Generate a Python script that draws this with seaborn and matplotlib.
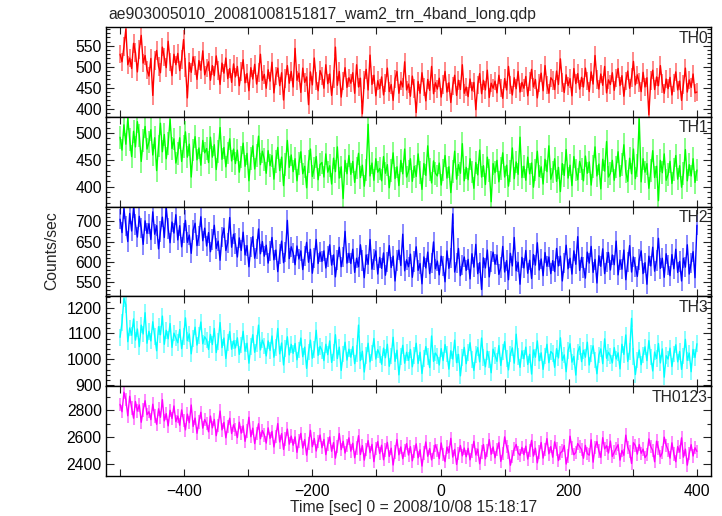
import numpy as np
import matplotlib.pyplot as plt
import seaborn as sns
from matplotlib.ticker import MultipleLocator, FuncFormatter

# time bins (sec), 0 = 2008/10/08 15:18:17
time_sec = np.arange(-500, 401, 3)

# count rates (counts/sec)
th0 = [
    530, 512, 548, 590, 505, 521, 496, 556, 534, 488, 541, 575, 509, 527, 493,
    478, 520, 432, 515, 539, 501, 486, 547, 523, 498, 561, 512, 479, 530, 505,
    532, 491, 518, 565, 499, 426, 510, 487, 524, 503, 470, 515, 492, 538, 481,
    497, 512, 468, 503, 479, 526, 491, 458, 509, 485, 521, 472, 496, 463, 507,
    476, 501, 455, 489, 517, 462, 484, 443, 498, 471, 506, 459, 487, 530, 468,
    482, 449, 493, 466, 511, 438, 478, 497, 455, 486, 421, 472, 503, 461, 489,
    452, 544, 468, 485, 439, 497, 463, 476, 410, 488, 457, 521, 466, 443, 491,
    478, 449, 505, 460, 483, 432, 471, 547, 456, 489, 428, 466, 498, 451, 474,
    461, 486, 437, 505, 452, 473, 388, 469, 494, 445, 528, 458, 480, 431, 467,
    448, 476, 433, 462, 497, 441, 458, 420, 471, 489, 437, 466, 452, 512, 445,
    459, 430, 478, 448, 391, 465, 437, 486, 452, 419, 470, 444, 501, 436, 462,
    447, 473, 428, 458, 489, 440, 462, 415, 455, 480, 432, 468, 446, 505, 437,
    452, 429, 471, 443, 463, 398, 457, 484, 436, 468, 445, 492, 427, 461, 449,
    466, 438, 480, 450, 425, 472, 445, 501, 457, 433, 474, 448, 489, 440, 463,
    449, 477, 431, 465, 494, 452, 470, 426, 461, 485, 443, 503, 457, 437, 474,
    468, 446, 490, 458, 519, 463, 439, 481, 455, 472, 431, 496, 460, 484, 447,
    475, 452, 497, 466, 441, 488, 459, 527, 470, 447, 483, 456, 501, 438, 469,
    458, 486, 444, 473, 496, 455, 479, 430, 466, 490, 449, 475, 513, 457, 481,
    463, 441, 487, 452, 474, 386, 468, 492, 446, 476, 455, 503, 460, 437, 471,
    448, 475, 433, 462, 488, 445, 466, 420, 458, 497, 440, 469, 451, 483, 438,
    440,
]

th1 = [
    492, 468, 515, 479, 527, 488, 456, 503, 474, 521, 495, 447, 486, 512, 470,
    483, 506, 459, 491, 430, 476, 518, 465, 497, 452, 480, 525, 471, 489, 444,
    462, 491, 447, 475, 502, 455, 479, 418, 468, 493, 450, 472, 440, 486, 463,
    471, 445, 492, 455, 478, 432, 466, 510, 451, 473, 437, 463, 489, 448, 470,
    443, 468, 427, 455, 481, 438, 462, 411, 452, 476, 433, 458, 494, 441, 466,
    451, 425, 467, 439, 458, 414, 447, 473, 430, 455, 402, 441, 486, 436, 459,
    428, 452, 411, 443, 465, 424, 438, 398, 447, 470, 419, 435, 456, 413, 441,
    445, 418, 461, 427, 439, 405, 453, 428, 474, 416, 437, 378, 449, 424, 458,
    423, 447, 408, 435, 462, 417, 440, 401, 431, 516, 420, 444, 412, 452, 427,
    434, 411, 456, 425, 441, 398, 430, 463, 415, 437, 402, 449, 424, 470, 418,
    429, 452, 410, 438, 419, 461, 426, 395, 443, 421, 476, 432, 407, 448, 425,
    420, 444, 403, 431, 458, 416, 437, 389, 428, 466, 414, 441, 425, 480, 411,
    436, 413, 452, 427, 397, 445, 422, 468, 418, 439, 404, 455, 430, 372, 443,
    426, 449, 409, 434, 463, 418, 440, 401, 429, 472, 415, 446, 423, 492, 417,
    438, 412, 455, 424, 444, 399, 431, 466, 419, 437, 405, 451, 428, 476, 414,
    427, 452, 410, 436, 391, 443, 421, 469, 416, 440, 402, 456, 431, 413, 447,
    433, 411, 457, 425, 446, 403, 438, 474, 420, 442, 396, 451, 429, 484, 418,
    425, 449, 412, 437, 465, 419, 441, 478, 428, 410, 453, 424, 470, 415, 439,
    526, 409, 452, 427, 443, 397, 430, 467, 417, 438, 374, 449, 426, 461, 412,
    423, 447, 406, 432, 458, 414, 439, 399, 425, 469, 411, 441, 420, 452, 408,
    431,
]

th2 = [
    705, 672, 731, 688, 650, 719, 676, 734, 692, 661, 712, 683, 643, 701, 670,
    694, 655, 723, 668, 689, 632, 675, 710, 660, 735, 682, 647, 698, 671, 716,
    654, 689, 637, 671, 702, 648, 666, 621, 678, 695, 640, 663, 711, 652, 683,
    639, 672, 625, 655, 690, 633, 651, 604, 662, 683, 628, 647, 709, 636, 668,
    645, 612, 659, 628, 673, 617, 640, 588, 636, 662, 609, 631, 681, 620, 650,
    614, 641, 597, 627, 660, 605, 629, 576, 619, 651, 598, 624, 702, 608, 637,
    622, 593, 639, 607, 627, 581, 615, 648, 599, 631, 572, 610, 655, 596, 624,
    601, 627, 585, 613, 642, 592, 617, 563, 605, 636, 588, 612, 675, 597, 621,
    596, 631, 574, 609, 588, 642, 603, 561, 617, 594, 655, 582, 606, 627, 570,
    611, 584, 622, 567, 599, 640, 586, 614, 553, 603, 629, 591, 668, 578, 605,
    588, 619, 562, 601, 637, 579, 596, 546, 612, 585, 624, 571, 598, 649, 583,
    602, 568, 614, 590, 551, 627, 584, 609, 718, 575, 597, 633, 566, 593, 612,
    579, 606, 558, 620, 587, 643, 571, 598, 532, 610, 585, 629, 563, 601, 624,
    594, 617, 569, 586, 638, 575, 603, 556, 621, 590, 660, 578, 599, 545, 611,
    585, 628, 572, 604, 559, 618, 592, 647, 580, 607, 566, 623, 589, 612, 571,
    603, 576, 633, 590, 614, 553, 598, 641, 583, 609, 570, 627, 594, 662, 579,
    611, 586, 560, 624, 597, 638, 574, 606, 548, 615, 589, 632, 571, 600, 623,
    580, 617, 593, 651, 568, 605, 582, 629, 556, 599, 640, 575, 612, 588, 564,
    606, 627, 571, 598, 545, 614, 590, 636, 577, 603, 658, 584, 609, 562, 620,
    592, 566, 618, 583, 631, 574, 601, 553, 609, 587, 642, 570, 597, 625, 561,
    690,
]

th3 = [
    1085, 1142, 1235, 1210, 1068, 1121, 1093, 1156, 1074, 1117, 1049, 1132, 1098, 1180, 1062,
    1108, 1071, 1145, 1089, 1033, 1126, 1095, 1167, 1058, 1112, 1079, 1138, 1046, 1101, 1083,
    1064, 1115, 1041, 1089, 1160, 1072, 1098, 1021, 1081, 1124, 1055, 1093, 1144, 1060, 1087,
    1075, 1038, 1096, 1057, 1119, 1026, 1068, 1142, 1045, 1082, 1003, 1064, 1107, 1039, 1071,
    1044, 1083, 1019, 1056, 1108, 1031, 1062, 985, 1049, 1095, 1027, 1060, 1132, 1036, 1074,
    1052, 1013, 1071, 1034, 1090, 1008, 1045, 1119, 1021, 1063, 978, 1041, 1087, 1017, 1058,
    1023, 1061, 998, 1036, 1082, 1010, 1047, 965, 1029, 1074, 1004, 1038, 1112, 1015, 1050,
    1034, 995, 1058, 1018, 1071, 988, 1026, 1095, 1003, 1047, 957, 1021, 1066, 997, 1039,
    1008, 1049, 983, 1022, 1132, 995, 1031, 951, 1014, 1062, 990, 1025, 1080, 1001, 1037,
    1019, 981, 1043, 1006, 1058, 973, 1013, 1085, 992, 1035, 940, 1010, 1054, 985, 1027,
    996, 1038, 971, 1015, 1062, 984, 1027, 945, 1003, 1049, 1011, 968, 1090, 992, 1024,
    1012, 978, 1041, 995, 1057, 1020, 962, 1033, 1001, 1074, 987, 1019, 936, 1008, 1046,
    983, 1026, 1064, 999, 957, 1018, 1045, 990, 1082, 1006, 971, 1031, 1000, 948, 1039,
    1015, 992, 1053, 976, 1028, 1068, 1003, 959, 1021, 1044, 985, 1097, 1010, 969, 1033,
    1002, 1047, 980, 1019, 943, 1036, 1008, 1071, 994, 1025, 961, 1013, 1058, 987, 1030,
    1022, 969, 1041, 1005, 1083, 996, 1017, 952, 1034, 1060, 989, 1011, 939, 1028, 1049,
    991, 1035, 1008, 1066, 978, 1023, 1052, 997, 944, 1016, 1040, 983, 1079, 1004, 1027,
    1013, 986, 1045, 1001, 1025, 963, 1058, 1019, 1094, 992, 1031, 1158, 1010, 941, 998,
    1036, 979, 1017, 1048, 995, 1072, 1009, 955, 1028, 1003, 1061, 986, 1040, 931, 1014,
    1001, 1043, 972, 1020, 1056, 990, 1030, 961, 1013, 1077, 996, 1024, 952, 1038, 1007,
    1060,
]

th0123 = [
    2845, 2790, 2935, 2880, 2760, 2905, 2818, 2742, 2866, 2795, 2841, 2712, 2803, 2872, 2768,
    2790, 2731, 2846, 2758, 2697, 2812, 2749, 2880, 2722, 2776, 2685, 2801, 2740, 2833, 2716,
    2758, 2690, 2804, 2726, 2655, 2772, 2709, 2840, 2681, 2743, 2630, 2715, 2786, 2668, 2732,
    2702, 2641, 2758, 2670, 2733, 2612, 2689, 2795, 2655, 2711, 2596, 2680, 2742, 2628, 2693,
    2657, 2598, 2712, 2631, 2685, 2570, 2646, 2749, 2604, 2668, 2553, 2627, 2701, 2589, 2650,
    2618, 2557, 2670, 2592, 2643, 2528, 2606, 2702, 2565, 2627, 2510, 2588, 2661, 2549, 2609,
    2541, 2603, 2488, 2572, 2629, 2520, 2583, 2467, 2555, 2652, 2530, 2591, 2498, 2568, 2617,
    2522, 2584, 2471, 2549, 2603, 2496, 2561, 2445, 2530, 2628, 2508, 2570, 2483, 2541, 2596,
    2497, 2556, 2448, 2521, 2612, 2472, 2538, 2430, 2509, 2575, 2486, 2547, 2419, 2515, 2568,
    2480, 2541, 2433, 2506, 2562, 2458, 2519, 2394, 2492, 2583, 2470, 2528, 2441, 2501, 2553,
    2468, 2530, 2425, 2494, 2551, 2447, 2507, 2386, 2483, 2565, 2459, 2516, 2432, 2490, 2544,
    2502, 2441, 2558, 2470, 2419, 2527, 2486, 2592, 2453, 2510, 2398, 2478, 2539, 2462, 2520,
    2455, 2518, 2432, 2497, 2570, 2468, 2512, 2403, 2489, 2546, 2440, 2501, 2583, 2474, 2528,
    2448, 2509, 2561, 2421, 2479, 2603, 2532, 2490, 2392, 2457, 2514, 2547, 2483, 2466, 2525,
    2471, 2534, 2438, 2502, 2577, 2460, 2519, 2410, 2492, 2561, 2445, 2508, 2590, 2477, 2531,
    2452, 2566, 2513, 2427, 2484, 2497, 2539, 2401, 2462, 2608, 2520, 2470, 2488, 2553, 2531,
    2509, 2444, 2540, 2478, 2467, 2582, 2415, 2526, 2568, 2499, 2451, 2597, 2514, 2537, 2483,
    2572, 2457, 2489, 2518, 2545, 2430, 2502, 2466, 2616, 2526, 2493, 2405, 2560, 2538, 2475,
    2546, 2481, 2512, 2449, 2470, 2588, 2530, 2503, 2418, 2571, 2519, 2455, 2486, 2601, 2541,
    2506, 2445, 2559, 2477, 2418, 2531, 2490, 2596, 2452, 2512, 2393, 2479, 2545, 2461, 2522,
    2495,
]

band_names = ["TH0", "TH1", "TH2", "TH3", "TH0123"]
band_rates = [th0, th1, th2, th3, th0123]
band_err = [22, 21, 25, 32, 50]
band_colors = ["#ff0000", "#00ff00", "#0000ff", "#00ffff", "#ff00ff"]
y_limits = [(381, 595), (363, 530), (515, 736), (896, 1243), (2312, 2980)]
y_major = [50, 50, 50, 100, 200]
y_minor = [10, 10, 10, 20, 100]

sns.set_theme(style="ticks")
plt.rcParams["font.family"] = ["Liberation Sans", "DejaVu Sans"]

fig, axes = plt.subplots(5, 1, sharex=True, figsize=(7.22, 5.16), dpi=100)
fig.subplots_adjust(left=0.1468, right=0.9848, top=0.9477, bottom=0.0775, hspace=0)


def x_label_fmt(v, pos):
    if round(v) % 200 != 0:
        return ""
    return f"{v:.0f}".replace("-", "\u2212")


for i, ax in enumerate(axes):
    rate = np.asarray(band_rates[i], dtype=float)
    col = band_colors[i]
    err = band_err[i]

    # error bars in a lighter shade, rate curve on top
    ax.vlines(time_sec, rate - err, rate + err, color=col, alpha=0.5, lw=1.3)
    sns.lineplot(x=time_sec, y=rate, ax=ax, color=col, lw=1.0,
                 estimator=None, sort=False)

    ax.set_xlim(-522, 422)
    ax.set_ylim(*y_limits[i])
    ax.yaxis.set_major_locator(MultipleLocator(y_major[i]))
    ax.yaxis.set_minor_locator(MultipleLocator(y_minor[i]))
    ax.xaxis.set_major_locator(MultipleLocator(100))
    ax.xaxis.set_major_formatter(FuncFormatter(x_label_fmt))

    ax.tick_params(axis="y", which="major", direction="in", length=6, width=0.8,
                   left=True, right=True, labelsize=11.3, pad=3, colors="#222222",
                   labelcolor="black")
    ax.tick_params(axis="y", which="minor", direction="in", length=3, width=0.8,
                   left=True, right=True, colors="#222222")
    ax.tick_params(axis="x", which="both", direction="in", length=5, width=0.8,
                   top=True, bottom=True, labelsize=11.3, pad=6, colors="#222222",
                   labelcolor="black")
    for sp in ax.spines.values():
        sp.set_visible(True)
        sp.set_linewidth(1.0)
        sp.set_color("black")

    ax.set_xlabel("")
    ax.set_ylabel("")
    ax.text(0.995, 0.96, band_names[i], transform=ax.transAxes,
            ha="right", va="top", fontsize=11.3)

fig.text(0.1496, 0.973, "ae903005010_20081008151817_wam2_trn_4band_long.qdp",
         ha="left", va="center", fontsize=11.3)
fig.text(0.072, 0.515, "Counts/sec", rotation=90, ha="center", va="center", fontsize=11.3)
fig.text(0.573, 0.017, "Time [sec] 0 = 2008/10/08 15:18:17",
         ha="center", va="center", fontsize=11.3)

fig.savefig("out.png", dpi=100)
